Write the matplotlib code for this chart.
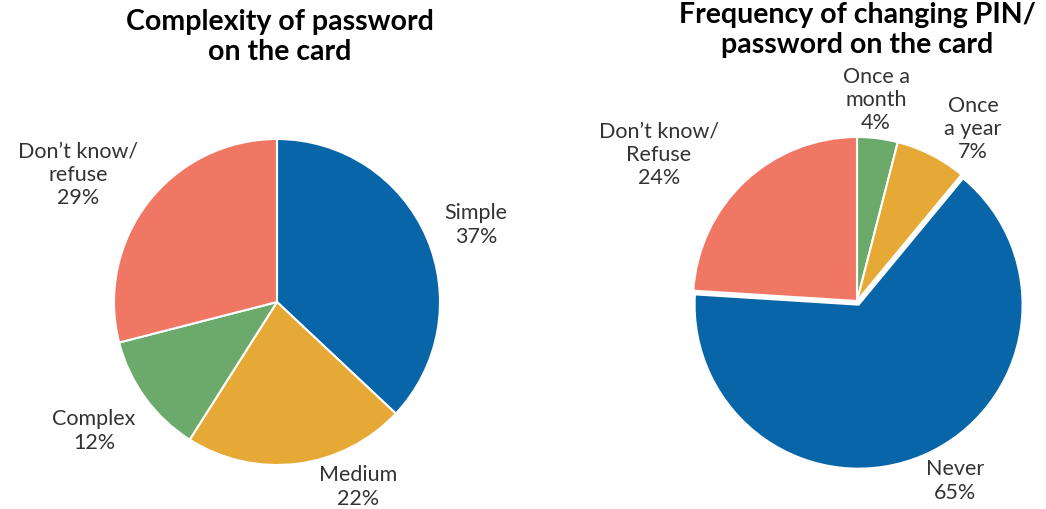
import matplotlib
matplotlib.use("Agg")
import matplotlib.pyplot as plt

# data
left_labels = ["Simple", "Medium", "Complex", "Don\u2019t know/\nrefuse"]
left_values = [37, 22, 12, 29]
right_labels = ["Once a\nmonth", "Once\na year", "Never", "Don\u2019t know/\nRefuse"]
right_values = [4, 7, 65, 24]

left_title = "Complexity of password\non the card"
right_title = "Frequency of changing PIN/\npassword on the card"

blue = "#0866a8"
orange = "#e6a936"
green = "#6caa6b"
salmon = "#f07763"
left_colors = [blue, orange, green, salmon]
right_colors = [green, orange, blue, salmon]

plt.rcParams['font.family'] = ['Lato', 'DejaVu Sans']

W, H = 1046, 510
fig = plt.figure(figsize=(W / 100, H / 100), dpi=100)
ax = fig.add_axes([0, 0, 1, 1])

R = 163
lc = (277, H - 303)
rc = (857, H - 302)

ax.pie(left_values, colors=left_colors, startangle=90, counterclock=False,
       center=lc, radius=R, frame=False,
       wedgeprops=dict(edgecolor="white", linewidth=1.5))
ax.pie(right_values, colors=right_colors, startangle=90, counterclock=False,
       center=rc, radius=R + 1, frame=False, explode=[0, 0, 4, 0],
       wedgeprops=dict(edgecolor="white", linewidth=1.5))

ax.set_xlim(0, W)
ax.set_ylim(0, H)
ax.set_aspect("equal")
ax.axis("off")

# label offsets from pie centre (pixels, right / up)
left_offsets = [(199, 78), (81, -184), (-183, -128), (-199, 128)]
right_offsets = [(19, 202), (116, 173), (98, -179), (-198, 147)]

for lab, v, (dx, dy) in zip(left_labels, left_values, left_offsets):
    ax.text(lc[0] + dx, lc[1] + dy, f"{lab}\n{v}%", ha="center", va="center",
            fontsize=15.5, color="#333333", linespacing=1.2)
for lab, v, (dx, dy) in zip(right_labels, right_values, right_offsets):
    ax.text(rc[0] + dx, rc[1] + dy, f"{lab}\n{v}%", ha="center", va="center",
            fontsize=15.5, color="#333333", linespacing=1.2)

ax.text(280, H - 37, left_title, ha="center", va="center", fontsize=20.5,
        fontweight="bold", color="black", linespacing=1.15)
ax.text(857, H - 30, right_title, ha="center", va="center", fontsize=20.5,
        fontweight="bold", color="black", linespacing=1.15)

fig.savefig("out.png", dpi=100)
